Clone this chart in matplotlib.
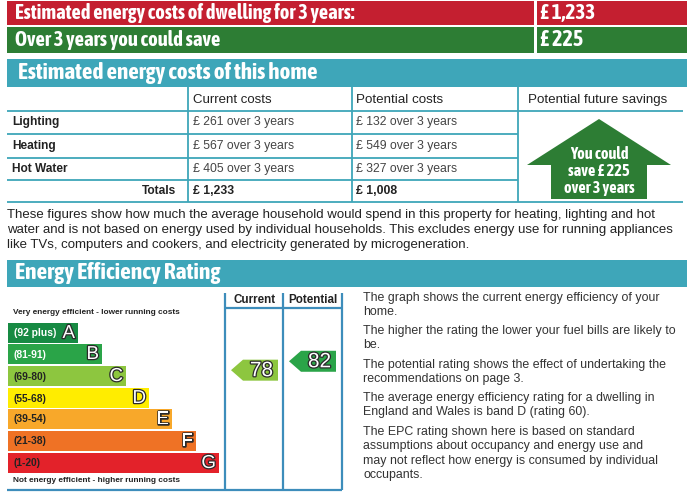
import matplotlib
matplotlib.use("Agg")
import matplotlib.pyplot as plt
from matplotlib import font_manager
from matplotlib.font_manager import FontProperties
from matplotlib.patches import Rectangle, Polygon
import matplotlib.patheffects as pe

# ---------------- data ----------------
top_labels = ["Estimated energy costs of dwelling for 3 years:", "Over 3 years you could save"]
cost_items = ["Lighting", "Heating", "Hot Water"]
current_costs = [261, 567, 405]
potential_costs = [132, 549, 327]
band_letters = ["A", "B", "C", "D", "E", "F", "G"]
band_ranges = ["(92 plus)", "(81-91)", "(69-80)", "(55-68)", "(39-54)", "(21-38)", "(1-20)"]
band_min = [92, 81, 69, 55, 39, 21, 1]
band_max = [100, 91, 80, 68, 54, 38, 20]
current_rating = 78
potential_rating = 82
info_paragraphs = [
    ["The graph shows the current energy efficiency of your", "home."],
    ["The higher the rating the lower your fuel bills are likely to", "be."],
    ["The potential rating shows the effect of undertaking the", "recommendations on page 3."],
    ["The average energy efficiency rating for a dwelling in", "England and Wales is band D (rating 60)."],
    ["The EPC rating shown here is based on standard",
     "assumptions about occupancy and energy use and",
     "may not reflect how energy is consumed by individual", "occupants."],
]
note_lines = [
    "These figures show how much the average household would spend in this property for heating, lighting and hot",
    "water and is not based on energy used by individual households. This excludes energy use for running appliances",
    "like TVs, computers and cookers, and electricity generated by microgeneration.",
]

total_current = sum(current_costs)
total_potential = sum(potential_costs)
saving = total_current - total_potential

# ---------------- styles ----------------
fonts = font_manager.fontManager.ttflist
names = {f.name for f in fonts}


def wnum(w):
    if isinstance(w, (int, float)):
        return w
    return font_manager.weight_dict.get(str(w).lower(), 400)


def pick_bold_narrow():
    cands = [f for f in fonts if ("Narrow" in f.name or "Condensed" in f.name)
             and wnum(f.weight) >= 600 and f.style == "normal"]
    if not cands:
        cands = [f for f in fonts if str(f.stretch) in ("condensed", "semi-condensed")
                 and wnum(f.weight) >= 600 and f.style == "normal"]
    if cands:
        cands.sort(key=lambda f: (0 if "Liberation" in f.name else 1, abs(wnum(f.weight) - 700)))
        return FontProperties(fname=cands[0].fname)
    if "Lato" in names:
        return FontProperties(family="Lato", weight="bold")
    return FontProperties(family="Liberation Sans", weight="bold")


NARROW_BOLD = pick_bold_narrow()
SANS = "Liberation Sans" if "Liberation Sans" in names else "DejaVu Sans"
RED = "#c41f30"
GREEN = "#2d7d34"
TEAL = "#3ea6b9"
LINE_BLUE = "#3d8dbb"
band_colors = ["#178a43", "#2aa448", "#8dc63f", "#ffed00", "#f8a82a", "#ef7225", "#e3222a"]
band_text_colors = ["white", "white", "#222222", "#222222", "#222222", "#222222", "#222222"]

W, H = 692, 497
fig = plt.figure(figsize=(W / 100, H / 100), dpi=100)
ax = fig.add_axes([0, 0, 1, 1])
ax.set_xlim(0, W)
ax.set_ylim(H, 0)
ax.axis("off")
renderer = fig.canvas.get_renderer()


def fit(s, x0, x1, y, ha="left", scale=1.0, **kw):
    x = {"left": x0, "right": x1, "center": (x0 + x1) / 2}[ha]
    if "fontproperties" in kw:
        kw["fontproperties"] = kw["fontproperties"].copy()
    t = ax.text(x, y, s, ha=ha, va="center", **kw)
    t.set_fontsize(10)
    w = t.get_window_extent(renderer).width
    t.set_fontsize(10 * scale * (x1 - x0) / w)
    return t


def rect(x0, y0, x1, y1, color, **kw):
    ax.add_patch(Rectangle((x0, y0), x1 - x0, y1 - y0, facecolor=color, edgecolor="none", **kw))


def hline(y, x0, x1, color=TEAL, lw=1.3):
    ax.plot([x0, x1], [y, y], color=color, lw=lw, solid_capstyle="butt")


def vline(x, y0, y1, color=TEAL, lw=1.3):
    ax.plot([x, x], [y0, y1], color=color, lw=lw, solid_capstyle="butt")


NB = dict(color="white", fontproperties=NARROW_BOLD)

# ---------------- top banners ----------------
rect(7, 1, 534, 25, RED)
rect(537, 1, 687, 25, RED)
rect(7, 27, 534, 53, GREEN)
rect(537, 27, 687, 53, GREEN)
fit(top_labels[0], 15, 353, 13, **NB)
fit(f"£ {total_current:,}", 540, 595, 13, **NB)
fit(top_labels[1], 15, 219, 40, **NB)
fit(f"£ {saving}", 540, 583, 40, **NB)

rect(7, 59, 687, 87, TEAL)
fit("Estimated energy costs of this home", 18, 315, 73, **NB)

# ---------------- cost table ----------------
row_y = [87, 111, 134, 158, 180, 202]
col_x = [7, 188, 352, 518, 683]
for i, y in enumerate(row_y[1:], start=1):
    if i in (2, 3, 4):
        hline(y, col_x[0], col_x[3])
    else:
        hline(y, col_x[0], col_x[4])
for x in col_x[1:4]:
    vline(x, row_y[0], row_y[-1])

hdr_kw = dict(color="#222222", family=SANS)
fit("Current costs", 193, 272, 100, **hdr_kw)
fit("Potential costs", 356, 443, 100, **hdr_kw)
fit("Potential future savings", 528, 668, 100, **hdr_kw)

lab = fit(cost_items[0], 12, 59, (row_y[1] + row_y[2]) / 2, color="#222222", family=SANS,
          fontweight="bold")
lab_fs = lab.get_fontsize()
val = fit(f"£ {current_costs[0]} over 3 years", 193, 295, (row_y[1] + row_y[2]) / 2,
          color="#444444", family=SANS)
val_fs = val.get_fontsize()
for i, item in enumerate(cost_items):
    yc = (row_y[i + 1] + row_y[i + 2]) / 2
    if i > 0:
        ax.text(12, yc, item, ha="left", va="center", fontsize=lab_fs, color="#222222",
                family=SANS, fontweight="bold")
        ax.text(193, yc, f"£ {current_costs[i]} over 3 years", ha="left", va="center",
                fontsize=val_fs, color="#444444", family=SANS)
    ax.text(356, yc, f"£ {potential_costs[i]} over 3 years", ha="left", va="center",
            fontsize=val_fs, color="#444444", family=SANS)
yt = (row_y[4] + row_y[5]) / 2
ax.text(176, yt, "Totals", ha="right", va="center", fontsize=lab_fs, color="#222222",
        family=SANS, fontweight="bold")
for x, v in ((193, total_current), (356, total_potential)):
    ax.text(x, yt, f"£ {v:,}", ha="left", va="center", fontsize=val_fs, color="#222222",
            family=SANS, fontweight="bold")

# house arrow
house = [(599, 119), (671, 165), (647, 165), (647, 199), (551, 199), (551, 165), (527, 165)]
ax.add_patch(Polygon(house, closed=True, facecolor=GREEN, edgecolor="none"))
h1 = fit("You could", 565, 633, 154, ha="center", scale=0.85, **NB)
hfs = h1.get_fontsize()
for s, y in ((f"save £ {saving}", 171), ("over 3 years", 188)):
    t = ax.text(599, y, s, ha="center", va="center", **NB)
    t.set_fontproperties(NARROW_BOLD.copy())
    t.set_fontsize(hfs)

# note paragraph
note_y = [215, 230, 245]
note_t = fit(note_lines[0], 7, 662, note_y[0], color="#222222", family=SANS)
for s, y in zip(note_lines[1:], note_y[1:]):
    ax.text(7, y, s, ha="left", va="center", fontsize=note_t.get_fontsize(), color="#222222",
            family=SANS)

# ---------------- energy efficiency rating ----------------
rect(7, 260, 687, 287, TEAL)
fit("Energy Efficiency Rating", 15, 219, 273, **NB)

chart_top, chart_hdr, chart_bot = 293, 308, 490
cx = [225, 283, 342]
for x in cx:
    vline(x, chart_top, chart_bot, color=LINE_BLUE, lw=1.6)
hline(chart_hdr, cx[0], cx[2], color=LINE_BLUE, lw=1.6)
hline(chart_bot, 7, cx[2], color=LINE_BLUE, lw=1.6)
fit("Current", 233, 275, 300, color="#222222", family=SANS, fontweight="bold")
fit("Potential", 288, 337, 300, color="#222222", family=SANS, fontweight="bold")

fit("Very energy efficient - lower running costs", 13, 180, 313, color="#222222", family=SANS,
    fontweight="bold")
fit("Not energy efficient - higher running costs", 13, 180, 480, color="#222222", family=SANS,
    fontweight="bold")

band_top = [323, 344, 366, 388, 409, 431, 453]
band_h = 20
band_right = [78, 102, 126, 149, 172, 196, 219]
letter_fx = [pe.withStroke(linewidth=1.8, foreground="#2a2a2a")]
for i, L in enumerate(band_letters):
    y0 = band_top[i]
    rect(8, y0, band_right[i], y0 + band_h, band_colors[i])
    yc = y0 + band_h / 2
    ax.text(14, yc + 0.5, band_ranges[i], ha="left", va="center", fontsize=7.4,
            color=band_text_colors[i], family=SANS, fontweight="bold")
    ax.text(band_right[i] - 3, yc + 0.5, L, ha="right", va="center", fontsize=13.5,
            color="white", family=SANS, path_effects=letter_fx)


def rating_y(v):
    for i in range(len(band_letters)):
        if band_min[i] <= v <= band_max[i]:
            lo = band_min[i]
            hi = band_max[i]
            frac = (hi - v + 0.5) / (hi - lo + 1)
            return band_top[i] + frac * band_h
    return band_top[-1]


def rating_arrow(v, x0, x1):
    yc = rating_y(v)
    i = next(k for k in range(len(band_letters)) if band_min[k] <= v <= band_max[k])
    h = 21
    tip = 12
    pts = [(x0, yc), (x0 + tip, yc - h / 2), (x1, yc - h / 2), (x1, yc + h / 2), (x0 + tip, yc + h / 2)]
    ax.add_patch(Polygon(pts, closed=True, facecolor=band_colors[i], edgecolor="none"))
    ax.text((x0 + tip + x1) / 2 + 1, yc + 0.5, str(v), ha="center", va="center", fontsize=15,
            color="white", family=SANS, path_effects=letter_fx)


rating_arrow(current_rating, 231, 278)
rating_arrow(potential_rating, 289, 336)

# right-hand explanation
probe = ax.text(0, -50, info_paragraphs[1][0], fontsize=10, family=SANS)
info_fs = 10 * (675 - 363) / probe.get_window_extent(renderer).width
probe.remove()
para_start = [298, 331, 365, 398, 432]
line_gap = 14.3
for p, y0 in zip(info_paragraphs, para_start):
    for j, s in enumerate(p):
        ax.text(363, y0 + j * line_gap, s, ha="left", va="center", fontsize=info_fs,
                color="#333333", family=SANS)

fig.savefig("out.png", dpi=100, facecolor="white")
